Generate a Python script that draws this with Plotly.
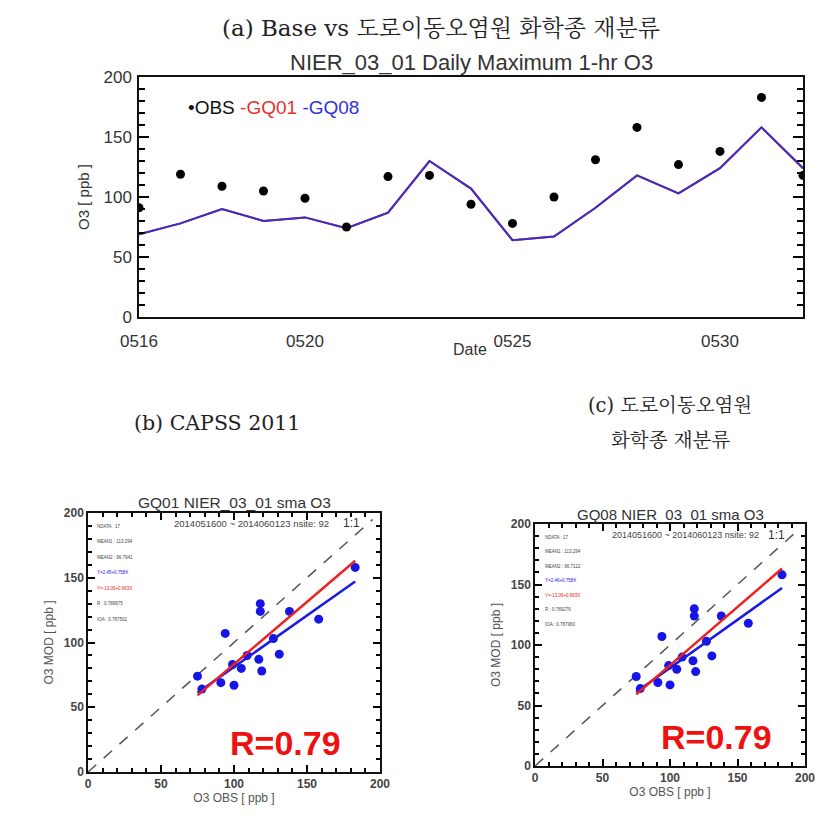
import plotly.graph_objects as go

# figure is drawn inside the page body (8 px default margin), so it is 16 px smaller than the window
OFF = 8
FW, FH = 824, 803

# ---------------- data ----------------
DATES = ['0516', '0517', '0518', '0519', '0520', '0521', '0522', '0523', '0524',
         '0525', '0526', '0527', '0528', '0529', '0530', '0531', '0601']
OBS = [91, 119, 109, 105, 99, 75, 117, 118, 94, 78, 100, 131, 158, 127, 138, 183, 118]
GQ01 = [69, 78, 90, 80, 83, 74, 87, 130, 107, 64, 67, 91, 118, 103, 124, 158, 124]
GQ08 = [69, 78, 90, 80, 83, 74, 87, 130, 107, 64, 67, 91, 118, 103, 124, 158, 124]
X_TICKS = ['0516', '0520', '0525', '0530']
Y_TICKS = [0, 50, 100, 150, 200]
SC_TICKS = [0, 50, 100, 150, 200]

# fit lines: (intercept, slope)
FIT_OLS = (1.6, 0.795)      # blue
FIT_SMA = (-13.06, 0.963)   # red
FIT_X = [75, 183]
ONE_TO_ONE = [0, 195]

STATS_B = ["NDATA : 17", "MEAN1 : 113.294", "MEAN2 : 96.7941", "Y=2.45+0.758X",
           "Y=-13.06+0.963X", "R : 0.789675", "IOA : 0.787502"]
STATS_C = ["NDATA : 17", "MEAN1 : 113.294", "MEAN2 : 96.7122", "Y=2.46+0.758X",
           "Y=-13.06+0.963X", "R : 0.789276", "IOA : 0.787960"]
STATS_COLORS = ['#444', '#444', '#444', '#2222dd', '#e02020', '#444', '#444']


def px(x):
    return (x - OFF) / FW


def py(y):
    return 1 - (y - OFF) / FH


SANS = "Liberation Sans, Arial, Helvetica, sans-serif"
SERIF = "DejaVu Serif, Noto Serif CJK KR, Noto Sans CJK KR, serif"

fig = go.Figure()

# ---------------- top time series ----------------
fig.add_trace(go.Scatter(x=DATES, y=GQ01, mode='lines', line=dict(color='#e02020', width=2),
                         name='GQ01', xaxis='x', yaxis='y', showlegend=False))
fig.add_trace(go.Scatter(x=DATES, y=GQ08, mode='lines', line=dict(color='#3b2fc9', width=2),
                         name='GQ08', xaxis='x', yaxis='y', showlegend=False))
fig.add_trace(go.Scatter(x=DATES, y=OBS, mode='markers', marker=dict(color='black', size=9),
                         name='OBS', xaxis='x', yaxis='y', showlegend=False))

# ---------------- scatter panels ----------------
for xa, ya, model in (('x2', 'y2', GQ01), ('x3', 'y3', GQ08)):
    fig.add_trace(go.Scatter(x=ONE_TO_ONE, y=ONE_TO_ONE, mode='lines',
                             line=dict(color='#555', width=1.5, dash='11px,10px'),
                             xaxis=xa, yaxis=ya, showlegend=False))
    fig.add_trace(go.Scatter(x=OBS, y=model, mode='markers',
                             marker=dict(color='#1515e8', size=9),
                             xaxis=xa, yaxis=ya, showlegend=False))
    fig.add_trace(go.Scatter(x=FIT_X, y=[FIT_OLS[0] + FIT_OLS[1] * v for v in FIT_X], mode='lines',
                             line=dict(color='#1a1ae0', width=2.5),
                             xaxis=xa, yaxis=ya, showlegend=False))
    fig.add_trace(go.Scatter(x=FIT_X, y=[FIT_SMA[0] + FIT_SMA[1] * v for v in FIT_X], mode='lines',
                             line=dict(color='#ee2020', width=2.5),
                             xaxis=xa, yaxis=ya, showlegend=False))

axis_common = dict(showgrid=False, zeroline=False, showline=True, linecolor='#111')

fig.update_layout(
    width=FW, height=FH, margin=dict(l=0, r=0, t=0, b=0, autoexpand=False),
    paper_bgcolor='white', plot_bgcolor='white',
    font=dict(family=SANS, color='#333'),
    xaxis=dict(axis_common, domain=[px(139), px(803)], type='category', range=[0, 16],
               tickvals=X_TICKS, ticktext=X_TICKS, ticks='', mirror=True, linewidth=1.5,
               tickfont=dict(size=17, color='#333'), ticklabelstandoff=8, anchor='y'),
    yaxis=dict(axis_common, domain=[py(317), py(77)], range=[0, 200], tickvals=Y_TICKS,
               ticks='inside', ticklen=10, tickwidth=2, tickcolor='black', mirror='allticks',
               linewidth=1.5,
               minor=dict(ticks='inside', ticklen=6, tickwidth=1.5, dtick=10, tick0=0, tickcolor='black'),
               tickfont=dict(size=17, color='#333'), ticklabelstandoff=2,
               title=dict(text='O3 [ ppb ]', font=dict(size=15, color='#333'), standoff=10),
               anchor='x'),
)

for n, (x0, x1, y0, y1) in ((2, (88, 380, 772, 513)), (3, (535, 805, 766, 524))):
    fig.layout['xaxis%d' % n] = dict(axis_common, domain=[px(x0), px(x1)], range=[0, 200],
                                     tickvals=SC_TICKS, ticks='inside', ticklen=7, tickwidth=2,
                                     mirror='allticks', linewidth=1.5, tickcolor='black',
                                     minor=dict(ticks='inside', ticklen=4, tickwidth=1.5, dtick=10,
                                                tick0=0, tickcolor='black'),
                                     tickfont=dict(size=12, color='#444', weight='bold'),
                                     title=dict(text='O3 OBS [ ppb ]', font=dict(size=12, color='#555'),
                                                standoff=2),
                                     anchor='y%d' % n)
    fig.layout['yaxis%d' % n] = dict(axis_common, domain=[py(y0), py(y1)], range=[0, 200],
                                     tickvals=SC_TICKS, ticks='inside', ticklen=7, tickwidth=2,
                                     mirror='allticks', linewidth=1.5, tickcolor='black',
                                     minor=dict(ticks='inside', ticklen=4, tickwidth=1.5, dtick=10,
                                                tick0=0, tickcolor='black'),
                                     tickfont=dict(size=12, color='#444', weight='bold'),
                                     title=dict(text='O3 MOD [ ppb ]', font=dict(size=12, color='#555'),
                                                standoff=8),
                                     anchor='x%d' % n)

ann = []


def text(x, y, t, size, color='#333', family=SANS, xanchor='center', weight='normal'):
    ann.append(dict(x=px(x), y=py(y), xref='paper', yref='paper', text=t, showarrow=False,
                    xanchor=xanchor, yanchor='middle',
                    font=dict(size=size, color=color, family=family, weight=weight)))


text(441, 28, '(a) Base vs 도로이동오염원 화학종 재분류', 23, '#222', SERIF)
text(471, 62, 'NIER_03_01 Daily Maximum 1-hr O3', 22, '#333')
text(186, 107, "<span style='color:#111'>•OBS</span> <span style='color:#e83030'>-GQ01</span> "
               "<span style='color:#3030e0'>-GQ08</span>", 19, xanchor='left')
text(470, 350, 'Date', 16, '#333')

text(217, 423, '(b) CAPSS 2011', 20.5, '#222', SERIF)
text(670, 405, '(c) 도로이동오염원', 19.5, '#222', SERIF)
text(670, 440, '화학종 재분류', 19.5, '#222', SERIF)

text(234, 502, 'GQ01 NIER_03_01 sma O3', 15.5, '#333')
text(670, 514, 'GQ08 NIER_03_01 sma O3', 15, '#333')

text(252, 523, '2014051600 ~ 2014060123 nsite: 92', 9.5, '#444')
text(351, 523, '1:1', 12, '#333')
text(685, 535, '2014051600 ~ 2014060123 nsite: 92', 9, '#444')
text(776, 535, '1:1', 12, '#333')

for i, s in enumerate(STATS_B):
    text(95, 526 + i * 15.5, s, 4.5, STATS_COLORS[i], xanchor='left')
for i, s in enumerate(STATS_C):
    text(543, 537 + i * 14.5, s, 4.5, STATS_COLORS[i], xanchor='left')

text(285, 743, 'R=0.79', 34, '#ee1111', weight='bold')
text(716, 737, 'R=0.79', 34, '#ee1111', weight='bold')

fig.update_layout(annotations=ann)

fig.write_html("out.html", config={'displayModeBar': False})
